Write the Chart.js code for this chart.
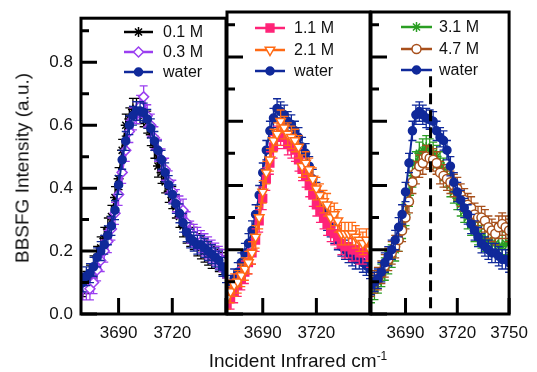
<!DOCTYPE html>
<html>
<head>
<meta charset="utf-8">
<title>BBSFG spectra</title>
<script src="https://cdn.jsdelivr.net/npm/chart.js@4.4.1/dist/chart.umd.min.js"></script>
<style>
    html, body { margin: 0; padding: 0; background: #fff; }
    #figure { position: relative; width: 537px; height: 372px; overflow: hidden; font-family: 'Liberation Sans', Arial, sans-serif; color: #111; }
    #figure canvas { position: absolute; left: 0; top: 0; }
    .axis-title { position: absolute; font-size: 19px; line-height: 1; white-space: nowrap; }
    #y-title { left: 22px; top: 168px; transform: translate(-50%, -50%) rotate(-90deg); }
    #x-title { left: 298px; top: 360px; transform: translate(-50%, -50%); }
    #x-title sup { font-size: 12px; line-height: 0; vertical-align: 7px; }
</style>
</head>
<body>
<div id="figure">
    <canvas id="panel-left" width="537" height="372"></canvas>
    <canvas id="panel-mid" width="537" height="372"></canvas>
    <canvas id="panel-right" width="537" height="372"></canvas>
    <div class="axis-title" id="y-title">BBSFG Intensity (a.u.)</div>
    <div class="axis-title" id="x-title">Incident Infrared cm<sup>-1</sup></div>
</div>
<script>
// wavenumbers (cm-1) shared by every series
const wavenumbers = [3670, 3672, 3674, 3676, 3678, 3680, 3682, 3684, 3686, 3688,
    3690, 3692, 3694, 3696, 3698, 3700, 3702, 3704, 3706, 3708,
    3710, 3712, 3714, 3716, 3718, 3720, 3722, 3724, 3726, 3728,
    3730, 3732, 3734, 3736, 3738, 3740, 3742, 3744, 3746, 3748, 3750];

const xTickValues = [3690, 3720, 3750];
const yTickValues = [0, 0.2, 0.4, 0.6, 0.8];
const yMinorValues = [0.1, 0.3, 0.5, 0.7, 0.9];

// left panel
const waterLeft = [0.10, 0.12, 0.13, 0.15, 0.18, 0.20, 0.22, 0.25, 0.28, 0.33,
    0.41, 0.49, 0.55, 0.60, 0.63, 0.645, 0.645, 0.64, 0.62, 0.59,
    0.55, 0.52, 0.49, 0.45, 0.41, 0.38, 0.35, 0.32, 0.29, 0.26,
    0.24, 0.23, 0.22, 0.22, 0.21, 0.20, 0.19, 0.18, 0.17, 0.15, 0.13];
const conc01 = [0.09, 0.10, 0.12, 0.15, 0.18, 0.21, 0.24, 0.27, 0.31, 0.37,
    0.43, 0.52, 0.60, 0.62, 0.65, 0.65, 0.64, 0.63, 0.61, 0.57,
    0.53, 0.47, 0.45, 0.42, 0.39, 0.37, 0.34, 0.31, 0.28, 0.26,
    0.25, 0.24, 0.22, 0.21, 0.20, 0.19, 0.18, 0.18, 0.17, 0.16, 0.15];
const conc03 = [0.08, 0.08, 0.08, 0.10, 0.14, 0.17, 0.20, 0.23, 0.27, 0.32,
    0.38, 0.45, 0.52, 0.58, 0.62, 0.64, 0.66, 0.69, 0.63, 0.60,
    0.56, 0.52, 0.49, 0.46, 0.42, 0.39, 0.36, 0.34, 0.33, 0.29,
    0.26, 0.25, 0.24, 0.23, 0.22, 0.21, 0.20, 0.19, 0.18, 0.17, 0.15];

// middle panel
const waterMid = [0.07, 0.09, 0.11, 0.13, 0.16, 0.19, 0.22, 0.26, 0.31, 0.37,
    0.44, 0.51, 0.57, 0.61, 0.64, 0.63, 0.62, 0.60, 0.59, 0.57,
    0.55, 0.52, 0.50, 0.46, 0.42, 0.38, 0.35, 0.32, 0.29, 0.27,
    0.25, 0.23, 0.21, 0.20, 0.19, 0.18, 0.17, 0.17, 0.16, 0.15, 0.14];
const conc11 = [0.03, 0.05, 0.07, 0.09, 0.11, 0.13, 0.16, 0.19, 0.23, 0.29,
    0.36, 0.42, 0.47, 0.52, 0.55, 0.56, 0.55, 0.53, 0.52, 0.51,
    0.48, 0.45, 0.43, 0.40, 0.37, 0.34, 0.32, 0.30, 0.28, 0.26,
    0.25, 0.24, 0.22, 0.21, 0.21, 0.20, 0.20, 0.19, 0.19, 0.20, 0.18];
const conc21 = [0.05, 0.07, 0.09, 0.10, 0.12, 0.14, 0.16, 0.19, 0.24, 0.30,
    0.38, 0.44, 0.48, 0.54, 0.56, 0.60, 0.58, 0.56, 0.55, 0.54,
    0.52, 0.46, 0.47, 0.45, 0.42, 0.39, 0.37, 0.35, 0.34, 0.30,
    0.31, 0.29, 0.25, 0.25, 0.25, 0.25, 0.24, 0.23, 0.22, 0.23, 0.20];

// right panel
const waterRight = [0.09, 0.10, 0.11, 0.13, 0.16, 0.18, 0.20, 0.23, 0.27, 0.31,
    0.38, 0.47, 0.57, 0.62, 0.63, 0.62, 0.61, 0.605, 0.60, 0.57,
    0.55, 0.54, 0.51, 0.46, 0.41, 0.38, 0.355, 0.33, 0.31, 0.28,
    0.26, 0.24, 0.22, 0.21, 0.20, 0.19, 0.19, 0.18, 0.17, 0.17, 0.16];
const conc31 = [0.07, 0.08, 0.10, 0.12, 0.14, 0.16, 0.18, 0.20, 0.23, 0.27,
    0.31, 0.37, 0.43, 0.47, 0.50, 0.51, 0.52, 0.51, 0.50, 0.49,
    0.47, 0.45, 0.43, 0.40, 0.38, 0.36, 0.34, 0.32, 0.30, 0.28,
    0.26, 0.25, 0.24, 0.23, 0.23, 0.22, 0.22, 0.21, 0.21, 0.22, 0.22];
const conc47 = [0.09, 0.10, 0.11, 0.13, 0.15, 0.17, 0.19, 0.21, 0.23, 0.26,
    0.30, 0.35, 0.41, 0.44, 0.46, 0.47, 0.49, 0.485, 0.48, 0.47,
    0.44, 0.43, 0.42, 0.41, 0.40, 0.39, 0.37, 0.355, 0.34, 0.33,
    0.31, 0.30, 0.30, 0.29, 0.27, 0.26, 0.25, 0.27, 0.28, 0.27, 0.26];

// error bar half-heights
const errWater = 0.03;
const errSalt = 0.035;

// dashed reference line in the right panel
const refLineX = 3704.5;
const refLineTop = 0.74;

const Y_MAX = 0.94;
const FONT = "'Liberation Sans', Arial, sans-serif";

Chart.defaults.font.family = FONT;
Chart.defaults.color = '#111';

function series(label, values, err, style) {
    return {
        label,
        data: wavenumbers.map((x, i) => ({ x, y: values[i] })),
        err,
        borderColor: style.color,
        backgroundColor: style.fill,
        pointBackgroundColor: style.fill,
        pointBorderColor: style.color,
        pointStyle: style.shape,
        pointRotation: style.rotation || 0,
        pointRadius: style.radius,
        pointBorderWidth: style.pointBorder || 1.5,
        borderWidth: 2,
        tension: 0,
        order: style.order,
    };
}

const panelDecor = {
    id: 'panelDecor',
    beforeDatasetDraw(chart, args) {
        const ds = chart.data.datasets[args.index];
        if (!ds.err) {
            return;
        }
        const { ctx, chartArea, scales } = chart;
        ctx.save();
        ctx.beginPath();
        ctx.rect(chartArea.left, chartArea.top, chartArea.right - chartArea.left, chartArea.bottom - chartArea.top);
        ctx.clip();
        ctx.strokeStyle = ds.borderColor;
        ctx.lineWidth = 1.3;
        ctx.beginPath();
        ds.data.forEach((p) => {
            const x = scales.x.getPixelForValue(p.x);
            const top = scales.y.getPixelForValue(p.y + ds.err);
            const bot = scales.y.getPixelForValue(p.y - ds.err);
            ctx.moveTo(x, top);
            ctx.lineTo(x, bot);
            ctx.moveTo(x - 4, top);
            ctx.lineTo(x + 4, top);
            ctx.moveTo(x - 4, bot);
            ctx.lineTo(x + 4, bot);
        });
        ctx.stroke();
        ctx.restore();
    },
    afterDraw(chart, args, opts) {
        const { ctx, chartArea, scales } = chart;
        const { left, right, top, bottom } = chartArea;
        ctx.save();
        ctx.strokeStyle = '#000';

        if (opts.refLine) {
            const x = scales.x.getPixelForValue(refLineX);
            ctx.lineWidth = 3;
            ctx.setLineDash([11, 6]);
            ctx.beginPath();
            ctx.moveTo(x, scales.y.getPixelForValue(refLineTop));
            ctx.lineTo(x, bottom);
            ctx.stroke();
            ctx.setLineDash([]);
        }

        // inward ticks
        ctx.lineWidth = 3;
        ctx.beginPath();
        xTickValues.forEach((v) => {
            const x = scales.x.getPixelForValue(v);
            ctx.moveTo(x, bottom);
            ctx.lineTo(x, bottom - 16);
        });
        yTickValues.forEach((v) => {
            const y = scales.y.getPixelForValue(v);
            ctx.moveTo(left, y);
            ctx.lineTo(left + 16, y);
        });
        yMinorValues.forEach((v) => {
            const y = scales.y.getPixelForValue(v);
            ctx.moveTo(left, y);
            ctx.lineTo(left + 8, y);
        });
        ctx.stroke();

        ctx.lineWidth = 3;
        ctx.strokeRect(left, top, right - left, bottom - top);

        // legend
        const leg = opts.legend;
        ctx.font = `16px ${FONT}`;
        ctx.textBaseline = 'middle';
        ctx.textAlign = 'left';
        leg.items.forEach((dsIndex, row) => {
            const ds = chart.data.datasets[dsIndex];
            const y = leg.rows[row];
            ctx.strokeStyle = ds.borderColor;
            ctx.lineWidth = 2.5;
            ctx.beginPath();
            ctx.moveTo(leg.x0, y);
            ctx.lineTo(leg.x1, y);
            ctx.stroke();
            const o = chart.getDatasetMeta(dsIndex).data[0].options;
            ctx.fillStyle = o.backgroundColor;
            ctx.strokeStyle = o.borderColor;
            ctx.lineWidth = o.borderWidth;
            Chart.helpers.drawPoint(ctx, {
                pointStyle: o.pointStyle,
                rotation: o.rotation,
                radius: o.radius,
                borderWidth: o.borderWidth,
            }, (leg.x0 + leg.x1) / 2, y);
            ctx.fillStyle = '#111';
            ctx.fillText(ds.label, leg.textX, y + 1);
        });
        ctx.restore();
    },
};

function makePanel(canvasId, panel) {
    const showY = panel.showY;
    return new Chart(document.getElementById(canvasId), {
        type: 'line',
        data: { datasets: panel.datasets },
        options: {
            responsive: false,
            animation: false,
            devicePixelRatio: 1,
            layout: { padding: panel.padding },
            plugins: {
                legend: { display: false },
                tooltip: { enabled: false },
                panelDecor: { legend: panel.legend, refLine: panel.refLine },
            },
            scales: {
                x: {
                    type: 'linear',
                    min: panel.xMin,
                    max: 3750,
                    afterBuildTicks: (scale) => {
                        scale.ticks = panel.xLabels.map((v) => ({ value: v }));
                    },
                    afterFit: (scale) => {
                        scale.height = 58;
                    },
                    grid: { display: false, drawTicks: false },
                    border: { display: false },
                    ticks: {
                        color: '#111',
                        font: { size: 17 },
                        padding: 9,
                        maxRotation: 0,
                        autoSkip: false,
                        callback: (v) => String(v),
                    },
                },
                y: {
                    display: showY,
                    min: 0,
                    max: Y_MAX,
                    afterBuildTicks: (scale) => {
                        scale.ticks = yTickValues.map((v) => ({ value: v }));
                    },
                    afterFit: (scale) => {
                        scale.width = showY ? 81 : 0;
                    },
                    grid: { display: false, drawTicks: false },
                    border: { display: false },
                    ticks: {
                        color: '#111',
                        font: { size: 17 },
                        padding: 8,
                        callback: (v) => v.toFixed(1),
                    },
                },
            },
        },
        plugins: [panelDecor],
    });
}

const BLUE = '#10299a';

makePanel('panel-left', {
    showY: true,
    xMin: 3669,
    xLabels: [3690, 3720],
    padding: { left: 0, right: 311, top: 12, bottom: 0 },
    legend: { x0: 124, x1: 153, textX: 163, rows: [32, 52, 72], items: [0, 1, 2] },
    datasets: [
        series('0.1 M', conc01, errSalt, { color: '#000', fill: '#000', shape: 'star', radius: 5, order: 2 }),
        series('0.3 M', conc03, errSalt, { color: '#9b3ff0', fill: '#fff', shape: 'rectRot', radius: 5, order: 1 }),
        series('water', waterLeft, errWater, { color: BLUE, fill: BLUE, shape: 'circle', radius: 4, order: 0 }),
    ],
});

makePanel('panel-mid', {
    showY: false,
    xMin: 3670,
    xLabels: [3690, 3720],
    padding: { left: 227, right: 167, top: 12, bottom: 0 },
    legend: { x0: 255, x1: 285, textX: 294, rows: [28, 50, 71], items: [0, 1, 2] },
    datasets: [
        series('1.1 M', conc11, errSalt, { color: '#ff2277', fill: '#ff2277', shape: 'rect', radius: 5.5, order: 1 }),
        series('2.1 M', conc21, errSalt, { color: '#ff6a14', fill: '#fff', shape: 'triangle', rotation: 180, radius: 5.5, order: 0 }),
        series('water', waterMid, errWater, { color: BLUE, fill: BLUE, shape: 'circle', radius: 4, order: 2 }),
    ],
});

makePanel('panel-right', {
    showY: false,
    xMin: 3670,
    xLabels: [3690, 3720, 3750],
    refLine: true,
    padding: { left: 371, right: 22, top: 12, bottom: 0 },
    legend: { x0: 401, x1: 432, textX: 439, rows: [27, 49, 70], items: [0, 1, 2] },
    datasets: [
        series('3.1 M', conc31, errSalt, { color: '#2a9e23', fill: '#2a9e23', shape: 'star', radius: 5, order: 2 }),
        series('4.7 M', conc47, errSalt, { color: '#a8501c', fill: '#fff', shape: 'circle', radius: 4.5, order: 1 }),
        series('water', waterRight, errWater, { color: BLUE, fill: BLUE, shape: 'circle', radius: 4, order: 0 }),
    ],
});
</script>
</body>
</html>
